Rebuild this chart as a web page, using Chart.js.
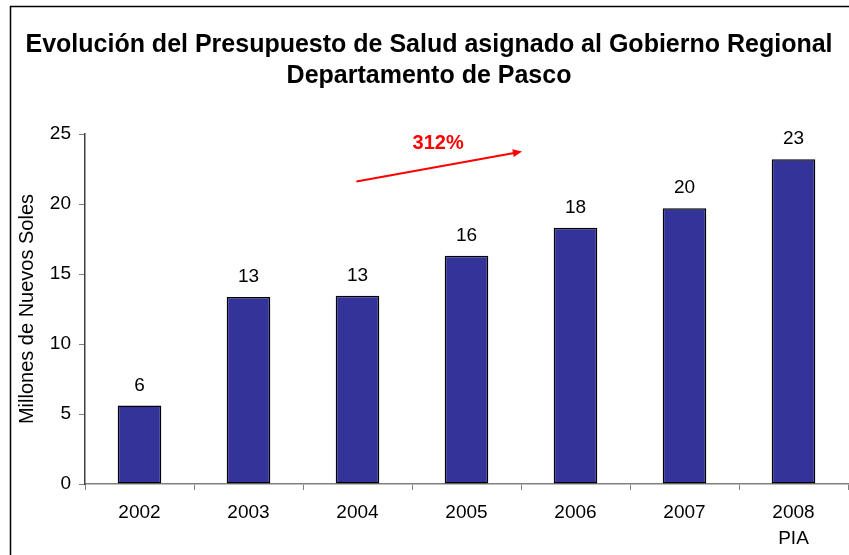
<!DOCTYPE html>
<html>
<head>
<meta charset="utf-8">
<script src="https://cdn.jsdelivr.net/npm/chart.js@4/dist/chart.umd.min.js"></script>
<style>
    html, body { margin: 0; padding: 0; background: #fff; }
    #wrap { width: 849px; height: 555px; }
</style>
</head>
<body>
<div id="wrap"><canvas id="budgetChart" width="849" height="555"></canvas></div>
<script>
// Data
const years = ['2002', '2003', '2004', '2005', '2006', '2007', ['2008', 'PIA']];
const budget = [5.6, 13.35, 13.45, 16.3, 18.3, 19.7, 23.2];
const yTicks = [0, 5, 10, 15, 20, 25];

// growth annotation: arrow from (category index, value) to (category index, value)
const growthLabel = '312%';
const arrowFrom = [1.99, 21.6];
const arrowTo = [3.51, 23.75];
const growthLabelAt = [2.74, 24.3];

const fontFamily = 'Arial, "Liberation Sans", sans-serif';

// frame lines round the picture (left + top only are visible)
const framePlugin = {
    id: 'frame',
    beforeDraw(chart) {
        const ctx = chart.ctx;
        ctx.save();
        ctx.fillStyle = '#fff';
        ctx.fillRect(0, 0, chart.width, chart.height);
        ctx.strokeStyle = '#000';
        ctx.lineWidth = 1.5;
        ctx.beginPath();
        ctx.moveTo(10.5, chart.height);
        ctx.lineTo(10.5, 6.5);
        ctx.lineTo(chart.width, 6.5);
        ctx.stroke();
        ctx.restore();
    }
};

// value labels above the bars
const valueLabels = {
    id: 'valueLabels',
    afterDatasetsDraw(chart) {
        const ctx = chart.ctx;
        const meta = chart.getDatasetMeta(0);
        ctx.save();
        ctx.font = '19px ' + fontFamily;
        ctx.fillStyle = '#000';
        ctx.textAlign = 'center';
        ctx.textBaseline = 'alphabetic';
        meta.data.forEach((bar, i) => {
            ctx.fillText(Math.round(budget[i]), bar.x, bar.y - 15);
        });
        ctx.restore();
    }
};

// red arrow with percentage growth
const growthArrow = {
    id: 'growthArrow',
    afterDatasetsDraw(chart) {
        const { ctx, scales: { x, y } } = chart;
        const x1 = x.getPixelForValue(arrowFrom[0]), y1 = y.getPixelForValue(arrowFrom[1]);
        const x2 = x.getPixelForValue(arrowTo[0]), y2 = y.getPixelForValue(arrowTo[1]);
        const ang = Math.atan2(y2 - y1, x2 - x1);
        const head = 10;
        ctx.save();
        ctx.strokeStyle = '#ff0000';
        ctx.fillStyle = '#ff0000';
        ctx.lineWidth = 2;
        ctx.beginPath();
        ctx.moveTo(x1, y1);
        ctx.lineTo(x2 - Math.cos(ang) * head * 0.8, y2 - Math.sin(ang) * head * 0.8);
        ctx.stroke();
        ctx.beginPath();
        ctx.moveTo(x2, y2);
        ctx.lineTo(x2 - head * Math.cos(ang - 0.4), y2 - head * Math.sin(ang - 0.4));
        ctx.lineTo(x2 - head * Math.cos(ang + 0.4), y2 - head * Math.sin(ang + 0.4));
        ctx.closePath();
        ctx.fill();

        ctx.font = 'bold 20px ' + fontFamily;
        ctx.textAlign = 'center';
        ctx.textBaseline = 'middle';
        ctx.fillText(growthLabel, x.getPixelForValue(growthLabelAt[0]), y.getPixelForValue(growthLabelAt[1]));
        ctx.restore();
    }
};

new Chart(document.getElementById('budgetChart'), {
    type: 'bar',
    data: {
        labels: years,
        datasets: [{
            data: budget,
            backgroundColor: '#333399',
            borderColor: '#000',
            borderWidth: 1.5,
            borderSkipped: false,
            categoryPercentage: 1,
            barPercentage: 0.4
        }]
    },
    options: {
        responsive: false,
        animation: false,
        devicePixelRatio: 1,
        layout: { padding: { left: 10, right: 1, top: 6, bottom: 0 } },
        plugins: {
            legend: { display: false },
            tooltip: { enabled: false },
            title: {
                display: true,
                text: ['Evolución del Presupuesto de Salud asignado al Gobierno Regional', 'Departamento de Pasco'],
                color: '#000',
                font: { family: fontFamily, size: 25, weight: 'bold', lineHeight: 1.24 },
                padding: { top: 24, bottom: 42 }
            }
        },
        scales: {
            x: {
                grid: { drawOnChartArea: false, drawTicks: true, tickLength: 6, color: '#808080', offset: true },
                border: { color: '#808080', width: 1.5 },
                ticks: {
                    color: '#000',
                    padding: 10,
                    font: { family: fontFamily, size: 19, lineHeight: 1.35 }
                },
                afterFit(scale) { scale.height = 71; }
            },
            y: {
                min: 0,
                max: 25,
                afterBuildTicks(scale) { scale.ticks = yTicks.map(v => ({ value: v })); },
                grid: { drawOnChartArea: false, drawTicks: true, tickLength: 6, color: '#808080' },
                border: { color: '#404040', width: 1.5 },
                ticks: {
                    color: '#000',
                    padding: 8,
                    font: { family: fontFamily, size: 19 }
                },
                title: {
                    display: true,
                    text: 'Millones de Nuevos Soles',
                    color: '#000',
                    font: { family: fontFamily, size: 20 },
                    padding: { top: 5, bottom: 0 }
                },
                afterFit(scale) { scale.width = 75; }
            }
        }
    },
    plugins: [framePlugin, valueLabels, growthArrow]
});
</script>
</body>
</html>
